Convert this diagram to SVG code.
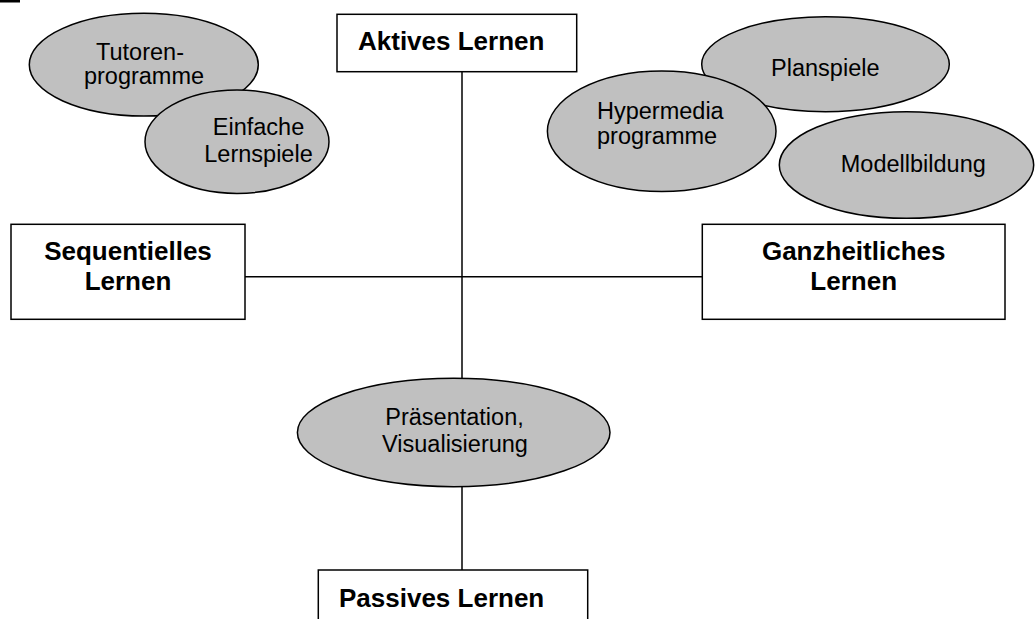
<svg xmlns="http://www.w3.org/2000/svg" width="1035" height="619" viewBox="0 0 1035 619">
<style>
.box{fill:#fff;stroke:#000;stroke-width:1.5}
.ell{fill:#c0c0c0;stroke:#000;stroke-width:1.5}
.con{stroke:#000;stroke-width:1.5;fill:none}
.b{font-family:"Liberation Sans",Arial,sans-serif;font-weight:bold;font-size:26px;fill:#000}
.r{font-family:"Liberation Sans",Arial,sans-serif;font-size:23.5px;fill:#000}
</style>
<rect x="0" y="0" width="20" height="2.5" fill="#000"/>
<g id="connectors">
<line class="con" x1="462" y1="72" x2="462" y2="570"/>
<line class="con" x1="245" y1="276.7" x2="702" y2="276.7"/>
</g>
<g id="aktives">
<rect class="box" x="337" y="14.3" width="239.7" height="57.4"/>
<text class="b" x="358" y="50">Aktives Lernen</text>
</g>
<g id="sequentielles">
<rect class="box" x="11" y="224.3" width="234" height="95"/>
<text class="b" x="128" y="260" text-anchor="middle">Sequentielles</text>
<text class="b" x="128" y="290" text-anchor="middle">Lernen</text>
</g>
<g id="ganzheitliches">
<rect class="box" x="702.3" y="224.3" width="302.7" height="95"/>
<text class="b" x="853.7" y="260" text-anchor="middle">Ganzheitliches</text>
<text class="b" x="853.7" y="290" text-anchor="middle">Lernen</text>
</g>
<g id="passives">
<rect class="box" x="318.3" y="570" width="269.4" height="60"/>
<text class="b" x="339" y="606.7">Passives Lernen</text>
</g>
<g id="tutoren">
<ellipse class="ell" cx="143.8" cy="64.7" rx="114.5" ry="51.4"/>
<text class="r" x="140" y="59.5" text-anchor="middle">Tutoren-</text>
<text class="r" x="144" y="83.5" text-anchor="middle">programme</text>
</g>
<g id="einfache">
<ellipse class="ell" cx="237" cy="141.7" rx="92" ry="51.7"/>
<text class="r" x="258.5" y="135" text-anchor="middle">Einfache</text>
<text class="r" x="258.5" y="161.7" text-anchor="middle">Lernspiele</text>
</g>
<g id="planspiele">
<ellipse class="ell" cx="825.5" cy="64.2" rx="123.8" ry="47.5"/>
<text class="r" x="825.3" y="76" text-anchor="middle">Planspiele</text>
</g>
<g id="hypermedia">
<ellipse class="ell" cx="661.7" cy="131.3" rx="114.3" ry="60.3"/>
<text class="r" x="597" y="119.3">Hypermedia</text>
<text class="r" x="597" y="144.3">programme</text>
</g>
<g id="modellbildung">
<ellipse class="ell" cx="906.5" cy="165" rx="127.2" ry="53.3"/>
<text class="r" x="913.3" y="171.7" text-anchor="middle">Modellbildung</text>
</g>
<g id="praesentation">
<ellipse class="ell" cx="453.7" cy="432.5" rx="156.3" ry="54.2"/>
<text class="r" x="454.5" y="425" text-anchor="middle">Präsentation,</text>
<text class="r" x="455" y="451.7" text-anchor="middle">Visualisierung</text>
</g>
</svg>
